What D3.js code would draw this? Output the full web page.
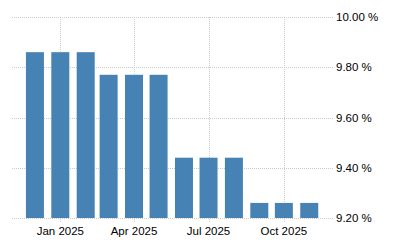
<!DOCTYPE html>
<html>
<head>
<meta charset="utf-8">
<script src="https://cdn.jsdelivr.net/npm/d3@7"></script>
<style>
  body { margin: 0; background: #fff; }
  .grid line { stroke: #ccc; stroke-dasharray: 1,1; shape-rendering: crispEdges; }
  text { font-family: "Liberation Sans", Arial, sans-serif; font-size: 11.5px; fill: #000; }
</style>
</head>
<body>
<script>
var width = 400, height = 250;

// data
var months = ["2024-12-01","2025-01-01","2025-02-01","2025-03-01","2025-04-01","2025-05-01",
              "2025-06-01","2025-07-01","2025-08-01","2025-09-01","2025-10-01","2025-11-01"];
var rates = [9.86, 9.86, 9.86, 9.77, 9.77, 9.77, 9.44, 9.44, 9.44, 9.26, 9.26, 9.26];
var yTicks = [9.2, 9.4, 9.6, 9.8, 10.0];
var xTicks = ["2025-01-01","2025-04-01","2025-07-01","2025-10-01"];

var parse = d3.utcParse("%Y-%m-%d");
var data = months.map(function(m, i){ return {date: parse(m), value: rates[i]}; });

// scales
var x = d3.scaleUtc()
  .domain([parse("2024-11-03"), parse("2025-11-30")])
  .range([12, 333]);
var y = d3.scaleLinear().domain([9.2, 10.0]).range([218, 17]);

var svg = d3.select("body").append("svg").attr("width", width).attr("height", height);

// grid lines
var grid = svg.append("g").attr("class", "grid");
grid.selectAll(".h").data(yTicks).enter().append("line")
  .attr("x1", 12).attr("x2", 333)
  .attr("y1", function(d){ return Math.round(y(d)) + 0.5; })
  .attr("y2", function(d){ return Math.round(y(d)) + 0.5; });
grid.selectAll(".v").data(xTicks).enter().append("line")
  .attr("x1", function(d){ return Math.round(x(parse(d))) + 0.5; })
  .attr("x2", function(d){ return Math.round(x(parse(d))) + 0.5; })
  .attr("y1", 17).attr("y2", 222);

// bars
var barW = 18;
svg.selectAll("rect").data(data).enter().append("rect")
  .attr("x", function(d){ return x(d.date) - barW / 2; })
  .attr("y", function(d){ return y(d.value); })
  .attr("width", barW)
  .attr("height", function(d){ return y(9.2) - y(d.value); })
  .attr("fill", "#4682b4");

// y labels
svg.selectAll(".ylab").data(yTicks).enter().append("text")
  .attr("x", 336)
  .attr("y", function(d){ return y(d); })
  .attr("dy", "0.35em")
  .text(function(d){ return d.toFixed(2) + " %"; });

// x labels
svg.selectAll(".xlab").data(xTicks).enter().append("text")
  .attr("x", function(d){ return x(parse(d)); })
  .attr("y", 235)
  .attr("text-anchor", "middle")
  .text(function(d){ return d3.utcFormat("%b %Y")(parse(d)); });
</script>
</body>
</html>
